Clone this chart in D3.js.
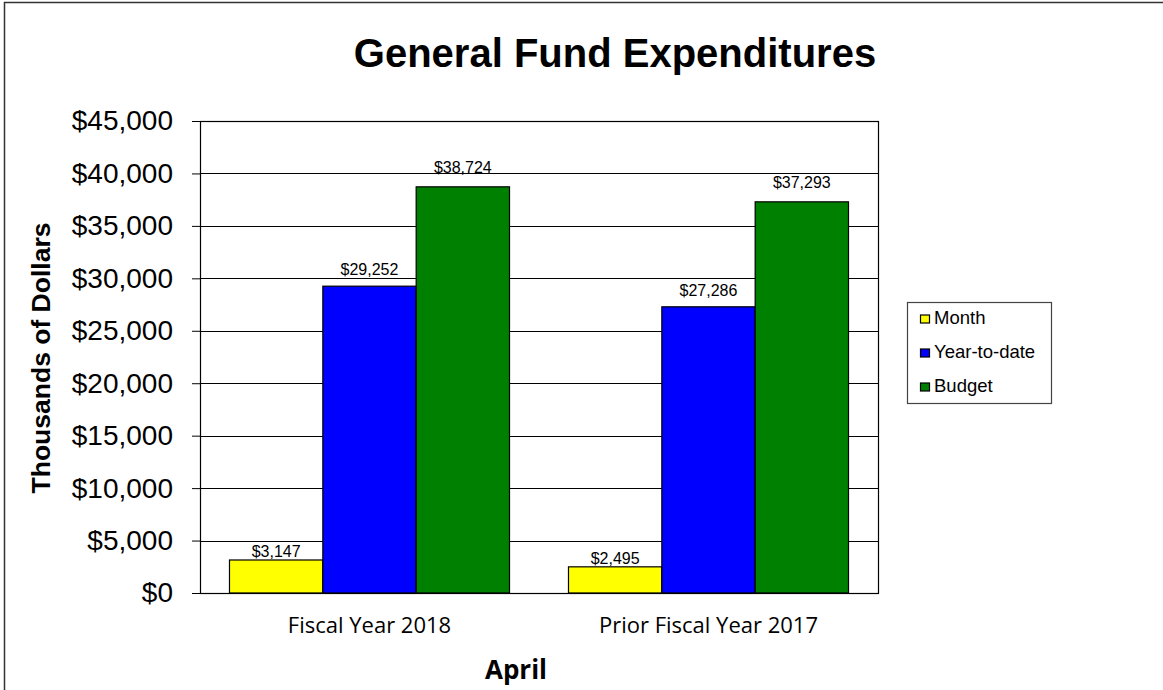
<!DOCTYPE html>
<html>
<head>
<meta charset="utf-8">
<script src="https://cdn.jsdelivr.net/npm/d3@7"></script>
<style>
  html, body { margin: 0; padding: 0; background: #fff; }
  svg { display: block; }
</style>
</head>
<body>
<svg id="chart" width="1163" height="690"></svg>
<script>
// Chart data
const categories = ["Fiscal Year 2018", "Prior Fiscal Year 2017"];
const seriesNames = ["Month", "Year-to-date", "Budget"];
const seriesColors = ["#FFFF00", "#0000FF", "#008000"];
const monthValues = [3147, 2495];
const ytdValues = [29252, 27286];
const budgetValues = [38724, 37293];
const yTicks = [0, 5000, 10000, 15000, 20000, 25000, 30000, 35000, 40000, 45000];

const seriesValues = [monthValues, ytdValues, budgetValues];
const rows = categories.map((c, i) => ({
  category: c,
  values: seriesNames.map((s, j) => ({ series: s, value: seriesValues[j][i], color: seriesColors[j] }))
}));

const svg = d3.select("#chart");
const plot = { left: 200, top: 121, right: 878, bottom: 593 };
const fmt = v => "$" + d3.format(",")(v);
const sans = "Liberation Sans, Arial, sans-serif";

// Outer frame
svg.append("rect")
  .attr("x", 4.5).attr("y", 2.5)
  .attr("width", 1200).attr("height", 800)
  .attr("fill", "none").attr("stroke", "#333").attr("stroke-width", 1.5);

const y = d3.scaleLinear().domain([0, 45000]).range([plot.bottom, plot.top]);
// value labels sit a little higher above taller bars
const yLabel = d3.scaleLinear().domain([0, 45000]).range([590.5, 104.8]);
const x0 = d3.scaleBand().domain(categories).range([plot.left, plot.right])
  .paddingInner(0.174).paddingOuter(0.087);
const x1 = d3.scaleBand().domain(seriesNames).range([0, x0.bandwidth()]);

// Gridlines
svg.append("g").selectAll("line").data(yTicks.slice(1)).join("line")
  .attr("x1", plot.left).attr("x2", plot.right)
  .attr("y1", d => Math.round(y(d)) + 0.5).attr("y2", d => Math.round(y(d)) + 0.5)
  .attr("stroke", "#000").attr("stroke-width", 1);

// Y axis
const yAxis = svg.append("g")
  .attr("transform", `translate(${plot.left},0)`)
  .call(d3.axisLeft(y).tickValues(yTicks).tickFormat(fmt).tickSize(8).tickPadding(19));
yAxis.select(".domain").remove();
yAxis.selectAll(".tick line").attr("stroke", "#000");
yAxis.selectAll(".tick text")
  .attr("font-family", sans)
  .attr("font-size", 28).attr("fill", "#000");

// Bars
const groups = svg.append("g").selectAll("g").data(rows).join("g")
  .attr("transform", d => `translate(${x0(d.category)},0)`);

groups.selectAll("rect").data(d => d.values).join("rect")
  .attr("x", d => x1(d.series))
  .attr("y", d => y(d.value))
  .attr("width", x1.bandwidth())
  .attr("height", d => plot.bottom - y(d.value))
  .attr("fill", d => d.color)
  .attr("stroke", "#000").attr("stroke-width", 1.2);

groups.selectAll("text").data(d => d.values).join("text")
  .attr("x", d => x1(d.series) + x1.bandwidth() / 2)
  .attr("y", d => yLabel(d.value))
  .attr("text-anchor", "middle")
  .attr("font-family", sans)
  .attr("font-size", 16).attr("fill", "#000")
  .text(d => fmt(d.value));

// Plot border
svg.append("rect")
  .attr("x", plot.left + 0.5).attr("y", plot.top + 0.5)
  .attr("width", plot.right - plot.left).attr("height", plot.bottom - plot.top)
  .attr("fill", "none").attr("stroke", "#000").attr("stroke-width", 1.2);

// Category labels
svg.append("g").selectAll("text").data(categories).join("text")
  .attr("x", d => x0(d) + x0.bandwidth() / 2)
  .attr("y", 633)
  .attr("text-anchor", "middle")
  .attr("font-family", "Open Sans, sans-serif")
  .attr("font-size", 22).attr("fill", "#000")
  .text(d => d);

// Title
svg.append("text")
  .attr("x", 615).attr("y", 67)
  .attr("text-anchor", "middle")
  .attr("font-family", sans)
  .attr("font-weight", "bold").attr("font-size", 40)
  .text("General Fund Expenditures");

// Axis titles
svg.append("text")
  .attr("transform", "translate(50,358) rotate(-90)")
  .attr("text-anchor", "middle")
  .attr("font-family", sans)
  .attr("font-weight", "bold").attr("font-size", 26.5)
  .text("Thousands of Dollars");

svg.append("text")
  .attr("x", 516).attr("y", 679)
  .attr("text-anchor", "middle")
  .attr("font-family", "Open Sans, sans-serif")
  .attr("font-weight", "bold").attr("font-size", 26)
  .text("April");

// Legend
const legend = svg.append("g").attr("transform", "translate(907,302)");
legend.append("rect")
  .attr("x", 0.5).attr("y", 0.5).attr("width", 144).attr("height", 101)
  .attr("fill", "#fff").attr("stroke", "#444").attr("stroke-width", 1.2);
const items = legend.selectAll("g.item").data(seriesNames).join("g")
  .attr("class", "item")
  .attr("transform", (d, i) => `translate(13,${13 + i * 34})`);
items.append("rect")
  .attr("x", 0.5).attr("y", 0).attr("width", 9).attr("height", 8)
  .attr("fill", (d, i) => seriesColors[i]).attr("stroke", "#000").attr("stroke-width", 1.2);
items.append("text")
  .attr("x", 14).attr("y", 9)
  .attr("font-family", sans)
  .attr("font-size", 18.5).attr("fill", "#000")
  .text(d => d);
</script>
</body>
</html>
